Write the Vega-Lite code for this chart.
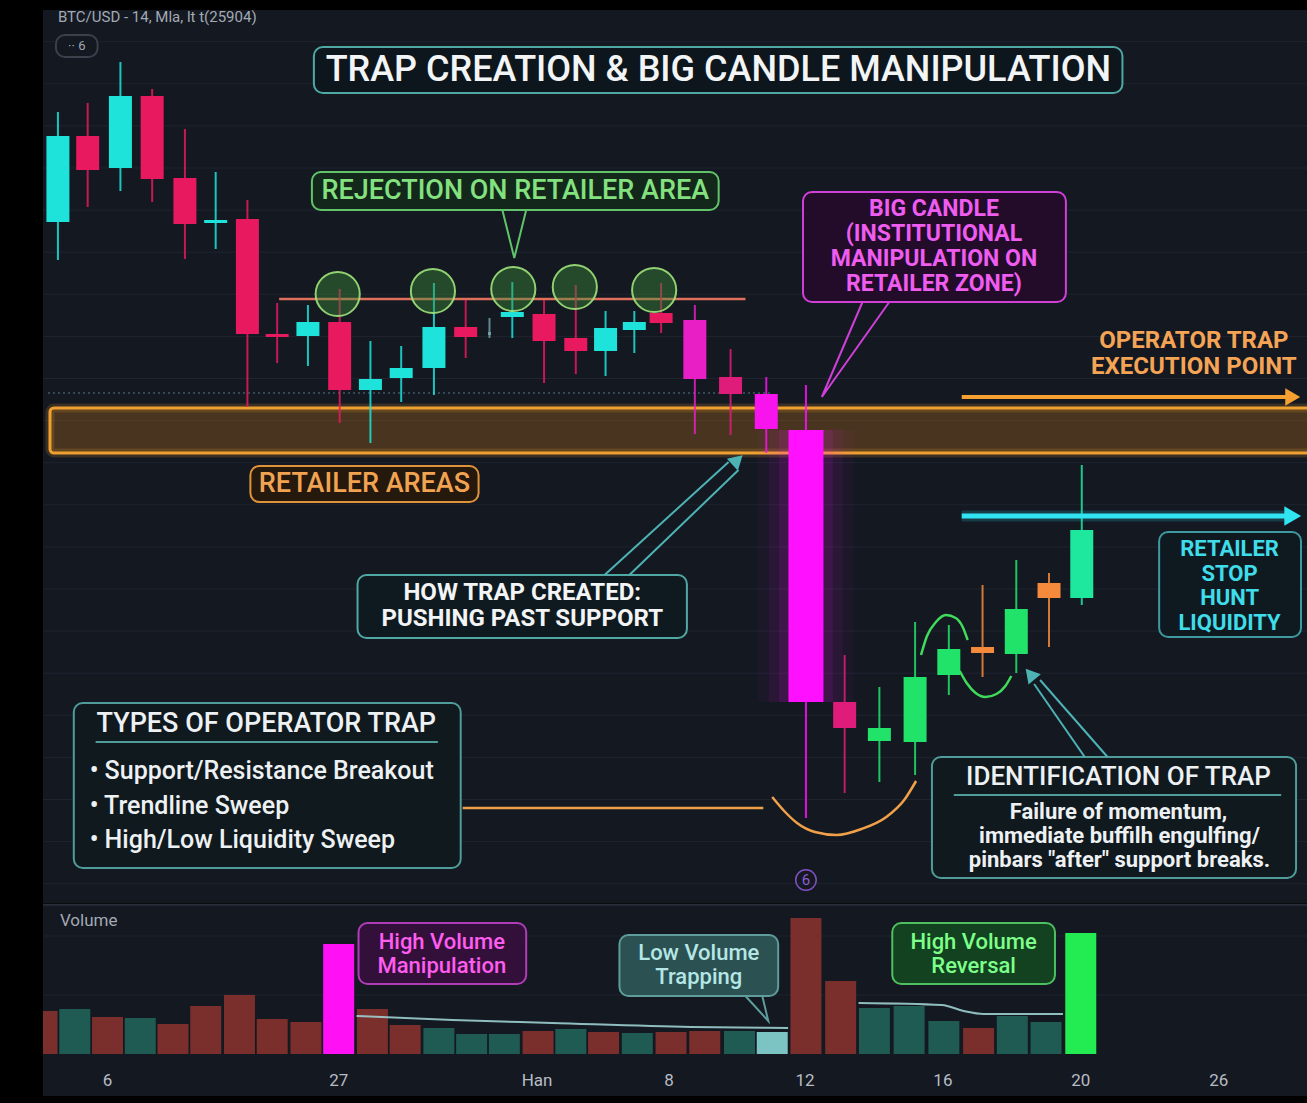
{
  "$schema": "https://vega.github.io/schema/vega-lite/v6.json",
  "background": "#000000",
  "padding": {"left": 42, "top": 10, "right": 0, "bottom": 8},
  "spacing": 0,
  "config": {
    "view": {"stroke": null, "fill": "#131821"},
    "axis": {"disable": true},
    "legend": {"disable": true},
    "font": "Roboto",
    "text": {"font": "Roboto", "baseline": "middle", "align": "center"}
  },
  "resolve": {"scale": {"x": "independent", "y": "independent", "color": "independent", "fill": "independent", "stroke": "independent"}},
  "datasets": {
    "candles": [
      {"t": 0.36, "o": 43280, "h": 44380, "l": 42900, "c": 44140, "phase": "bull"},
      {"t": 1.26, "o": 44140, "h": 44470, "l": 43430, "c": 43800, "phase": "bear"},
      {"t": 2.25, "o": 43820, "h": 44880, "l": 43590, "c": 44540, "phase": "bull"},
      {"t": 3.21, "o": 44540, "h": 44610, "l": 43480, "c": 43710, "phase": "bear"},
      {"t": 4.2, "o": 43720, "h": 44210, "l": 42910, "c": 43260, "phase": "bear"},
      {"t": 5.13, "o": 43270, "h": 43780, "l": 43010, "c": 43300, "phase": "bull"},
      {"t": 6.09, "o": 43310, "h": 43500, "l": 41430, "c": 42160, "phase": "bear"},
      {"t": 6.99, "o": 42160, "h": 42470, "l": 41870, "c": 42130, "phase": "bear"},
      {"t": 7.92, "o": 42140, "h": 42450, "l": 41840, "c": 42280, "phase": "bull"},
      {"t": 8.88, "o": 42280, "h": 42610, "l": 41270, "c": 41600, "phase": "bear"},
      {"t": 9.81, "o": 41600, "h": 42090, "l": 41070, "c": 41710, "phase": "bull"},
      {"t": 10.74, "o": 41720, "h": 42040, "l": 41480, "c": 41820, "phase": "bull"},
      {"t": 11.73, "o": 41820, "h": 42670, "l": 41550, "c": 42230, "phase": "bull"},
      {"t": 12.69, "o": 42230, "h": 42500, "l": 41920, "c": 42130, "phase": "bear"},
      {"t": 13.41, "o": 42150, "h": 42320, "l": 42120, "c": 42180, "phase": "ghost"},
      {"t": 14.1, "o": 42330, "h": 42680, "l": 42120, "c": 42380, "phase": "bull"},
      {"t": 15.06, "o": 42360, "h": 42500, "l": 41670, "c": 42090, "phase": "bear"},
      {"t": 16.02, "o": 42120, "h": 42650, "l": 41760, "c": 41990, "phase": "bear"},
      {"t": 16.92, "o": 41990, "h": 42390, "l": 41740, "c": 42220, "phase": "bull"},
      {"t": 17.79, "o": 42200, "h": 42390, "l": 41970, "c": 42280, "phase": "bull"},
      {"t": 18.6, "o": 42370, "h": 42670, "l": 42170, "c": 42270, "phase": "bear"},
      {"t": 19.62, "o": 42300, "h": 42450, "l": 41160, "c": 41710, "phase": "push"},
      {"t": 20.7, "o": 41730, "h": 42010, "l": 41150, "c": 41560, "phase": "pushred"},
      {"t": 21.78, "o": 41560, "h": 41730, "l": 40970, "c": 41210, "phase": "dump"},
      {"t": 22.98, "o": 41200, "h": 41650, "l": 37320, "c": 38480, "phase": "bigdump"},
      {"t": 24.15, "o": 38480, "h": 38950, "l": 37570, "c": 38220, "phase": "pushred"},
      {"t": 25.2, "o": 38090, "h": 38630, "l": 37680, "c": 38220, "phase": "reversal"},
      {"t": 26.28, "o": 38080, "h": 39280, "l": 37750, "c": 38730, "phase": "reversal"},
      {"t": 27.3, "o": 38750, "h": 39250, "l": 38550, "c": 39010, "phase": "reversal"},
      {"t": 28.32, "o": 38970, "h": 39650, "l": 38730, "c": 39030, "phase": "pause"},
      {"t": 29.34, "o": 38960, "h": 39900, "l": 38770, "c": 39410, "phase": "reversal"},
      {"t": 30.33, "o": 39520, "h": 39770, "l": 39030, "c": 39670, "phase": "pause"},
      {"t": 31.32, "o": 39520, "h": 40850, "l": 39450, "c": 40200, "phase": "breakout"}
    ],
    "grid": [
      {"p": 45083}, {"p": 44662}, {"p": 44241}, {"p": 43820}, {"p": 43399}, {"p": 42978}, {"p": 42557},
      {"p": 42136}, {"p": 41715}, {"p": 41294}, {"p": 40873}, {"p": 40452}, {"p": 40031}, {"p": 39610},
      {"p": 39189}, {"p": 38768}, {"p": 38347}, {"p": 37926}, {"p": 37505}, {"p": 37084}, {"p": 36663}
    ],
    "boxes": [
      {"id": "hdr6", "t1": 0.3, "t2": 1.56, "p1": 45150, "p2": 44930},
      {"id": "title", "t1": 8.1, "t2": 32.55, "p1": 45030, "p2": 44570},
      {"id": "reject", "t1": 8.04, "t2": 20.34, "p1": 43780, "p2": 43400},
      {"id": "bigc", "t1": 22.89, "t2": 30.84, "p1": 43580, "p2": 42480},
      {"id": "retail", "t1": 6.18, "t2": 13.08, "p1": 40840, "p2": 40480},
      {"id": "how", "t1": 9.42, "t2": 19.38, "p1": 39750, "p2": 39120},
      {"id": "liq", "t1": 33.66, "t2": 37.95, "p1": 40180, "p2": 39130},
      {"id": "types", "t1": 0.84, "t2": 12.54, "p1": 38470, "p2": 36820},
      {"id": "ident", "t1": 26.79, "t2": 37.8, "p1": 37930, "p2": 36720}
    ],
    "labels": [
      {"g": "hdr", "text": "BTC/USD - 14, Mla, lt t(25904)", "t": 0.36, "p": 45330},
      {"g": "six", "text": "·· 6", "t": 0.93, "p": 45040},
      {"g": "title", "text": "TRAP CREATION & BIG CANDLE MANIPULATION", "t": 20.33, "p": 44800},
      {"g": "reject", "text": "REJECTION ON RETAILER AREA", "t": 14.19, "p": 43590},
      {"g": "bigc", "text": "BIG CANDLE", "t": 26.85, "p": 43410},
      {"g": "bigc", "text": "(INSTITUTIONAL", "t": 26.85, "p": 43160},
      {"g": "bigc", "text": "MANIPULATION ON", "t": 26.85, "p": 42910},
      {"g": "bigc", "text": "RETAILER ZONE)", "t": 26.85, "p": 42660},
      {"g": "op", "text": "OPERATOR TRAP", "t": 34.71, "p": 42090},
      {"g": "op", "text": "EXECUTION POINT", "t": 34.71, "p": 41830},
      {"g": "retail", "text": "RETAILER AREAS", "t": 9.63, "p": 40660},
      {"g": "how", "text": "HOW TRAP CREATED:", "t": 14.4, "p": 39570},
      {"g": "how", "text": "PUSHING PAST SUPPORT", "t": 14.4, "p": 39310},
      {"g": "liq", "text": "RETAILER", "t": 35.79, "p": 40010},
      {"g": "liq", "text": "STOP", "t": 35.79, "p": 39765},
      {"g": "liq", "text": "HUNT", "t": 35.79, "p": 39520},
      {"g": "liq", "text": "LIQUIDITY", "t": 35.79, "p": 39275},
      {"g": "typesT", "text": "TYPES OF OPERATOR TRAP", "t": 6.66, "p": 38260},
      {"g": "bullet", "text": "• Support/Resistance Breakout", "t": 1.32, "p": 37790},
      {"g": "bullet", "text": "• Trendline Sweep", "t": 1.32, "p": 37440},
      {"g": "bullet", "text": "• High/Low Liquidity Sweep", "t": 1.32, "p": 37100},
      {"g": "identT", "text": "IDENTIFICATION OF TRAP", "t": 32.43, "p": 37730},
      {"g": "identB", "text": "Failure of momentum,", "t": 32.43, "p": 37380},
      {"g": "identB", "text": "immediate buffilh engulfing/", "t": 32.46, "p": 37140},
      {"g": "identB", "text": "pinbars \"after\" support breaks.", "t": 32.46, "p": 36900},
      {"g": "circ", "text": "6", "t": 22.98, "p": 36700}
    ],
    "hrules": [
      {"id": "dotted", "t1": 0.06, "t2": 21.9, "p": 41570},
      {"id": "resist", "t1": 7.05, "t2": 21.15, "p": 42510},
      {"id": "orangeH", "t1": 12.6, "t2": 21.69, "p": 37420},
      {"id": "opArrow", "t1": 27.69, "t2": 37.5, "p": 41530},
      {"id": "liqArrow", "t1": 27.69, "t2": 37.5, "p": 40340},
      {"id": "typesU", "t1": 1.5, "t2": 11.85, "p": 38080},
      {"id": "identU", "t1": 27.45, "t2": 37.35, "p": 37550}
    ],
    "paths": [
      {"id": "howA", "k": 0, "t": 16.89, "p": 39750}, {"id": "howA", "k": 1, "t": 20.64, "p": 40880},
      {"id": "howB", "k": 0, "t": 17.64, "p": 39750}, {"id": "howB", "k": 1, "t": 20.94, "p": 40800},
      {"id": "identA", "k": 0, "t": 31.41, "p": 37930}, {"id": "identA", "k": 1, "t": 29.88, "p": 38660},
      {"id": "identB", "k": 0, "t": 32.1, "p": 37930}, {"id": "identB", "k": 1, "t": 30.06, "p": 38700},
      {"id": "rejV", "k": 0, "t": 13.8, "p": 43400}, {"id": "rejV", "k": 1, "t": 14.16, "p": 42920}, {"id": "rejV", "k": 2, "t": 14.52, "p": 43400},
      {"id": "bigV", "k": 0, "t": 24.69, "p": 42480}, {"id": "bigV", "k": 1, "t": 23.46, "p": 41530}, {"id": "bigV", "k": 2, "t": 25.5, "p": 42480},
      {"id": "greenS1", "k": 0, "t": 26.46, "p": 38950}, {"id": "greenS1", "k": 1, "t": 26.64, "p": 39140},
      {"id": "greenS1", "k": 2, "t": 26.91, "p": 39280}, {"id": "greenS1", "k": 3, "t": 27.21, "p": 39350},
      {"id": "greenS1", "k": 4, "t": 27.51, "p": 39320}, {"id": "greenS1", "k": 5, "t": 27.72, "p": 39230},
      {"id": "greenS1", "k": 6, "t": 27.87, "p": 39100},
      {"id": "greenS2", "k": 0, "t": 27.63, "p": 38790}, {"id": "greenS2", "k": 1, "t": 27.84, "p": 38670},
      {"id": "greenS2", "k": 2, "t": 28.11, "p": 38570}, {"id": "greenS2", "k": 3, "t": 28.41, "p": 38530},
      {"id": "greenS2", "k": 4, "t": 28.74, "p": 38560}, {"id": "greenS2", "k": 5, "t": 29.01, "p": 38640},
      {"id": "greenS2", "k": 6, "t": 29.19, "p": 38740},
      {"id": "orangeU", "k": 0, "t": 21.96, "p": 37530}, {"id": "orangeU", "k": 1, "t": 22.35, "p": 37380},
      {"id": "orangeU", "k": 2, "t": 22.71, "p": 37270}, {"id": "orangeU", "k": 3, "t": 23.25, "p": 37180},
      {"id": "orangeU", "k": 4, "t": 23.91, "p": 37150}, {"id": "orangeU", "k": 5, "t": 24.66, "p": 37210},
      {"id": "orangeU", "k": 6, "t": 25.41, "p": 37330}, {"id": "orangeU", "k": 7, "t": 25.95, "p": 37500},
      {"id": "orangeU", "k": 8, "t": 26.31, "p": 37690}
    ],
    "heads": [
      {"id": "how", "t": 20.91, "p": 40900, "dir": 47},
      {"id": "ident", "t": 29.76, "p": 38760, "dir": -40},
      {"id": "op", "t": 37.7, "p": 41530, "dir": 90},
      {"id": "liq", "t": 37.7, "p": 40340, "dir": 90}
    ],
    "rings": [
      {"t": 8.82, "p": 42560}, {"t": 11.7, "p": 42590}, {"t": 14.13, "p": 42610},
      {"t": 15.99, "p": 42630}, {"t": 18.39, "p": 42600}
    ],
    "volume": [
      {"t": -0.12, "v": 860, "kind": "down"},
      {"t": 0.87, "v": 900, "kind": "up"},
      {"t": 1.86, "v": 740, "kind": "down"},
      {"t": 2.85, "v": 720, "kind": "up"},
      {"t": 3.84, "v": 600, "kind": "down"},
      {"t": 4.83, "v": 960, "kind": "down"},
      {"t": 5.85, "v": 1180, "kind": "down"},
      {"t": 6.84, "v": 700, "kind": "down"},
      {"t": 7.86, "v": 640, "kind": "down"},
      {"t": 8.85, "v": 2200, "kind": "spike"},
      {"t": 9.87, "v": 900, "kind": "down"},
      {"t": 10.86, "v": 580, "kind": "down"},
      {"t": 11.88, "v": 520, "kind": "up"},
      {"t": 12.87, "v": 400, "kind": "up"},
      {"t": 13.86, "v": 400, "kind": "up"},
      {"t": 14.88, "v": 460, "kind": "down"},
      {"t": 15.87, "v": 500, "kind": "up"},
      {"t": 16.86, "v": 440, "kind": "down"},
      {"t": 17.88, "v": 420, "kind": "up"},
      {"t": 18.9, "v": 440, "kind": "down"},
      {"t": 19.92, "v": 460, "kind": "down"},
      {"t": 20.97, "v": 460, "kind": "up"},
      {"t": 21.96, "v": 440, "kind": "quiet"},
      {"t": 22.98, "v": 2720, "kind": "down"},
      {"t": 24.03, "v": 1460, "kind": "down"},
      {"t": 25.05, "v": 920, "kind": "up"},
      {"t": 26.1, "v": 960, "kind": "up"},
      {"t": 27.15, "v": 660, "kind": "up"},
      {"t": 28.2, "v": 520, "kind": "down"},
      {"t": 29.22, "v": 760, "kind": "up"},
      {"t": 30.24, "v": 640, "kind": "up"},
      {"t": 31.29, "v": 2420, "kind": "surge"}
    ],
    "ma": [
      {"seg": "a", "k": 0, "t": 9.39, "v": 760}, {"seg": "a", "k": 1, "t": 12.3, "v": 680},
      {"seg": "a", "k": 2, "t": 15.3, "v": 620}, {"seg": "a", "k": 3, "t": 19.5, "v": 540},
      {"seg": "a", "k": 4, "t": 22.44, "v": 520},
      {"seg": "b", "k": 0, "t": 24.57, "v": 1020}, {"seg": "b", "k": 1, "t": 27.09, "v": 980},
      {"seg": "b", "k": 2, "t": 27.75, "v": 860}, {"seg": "b", "k": 3, "t": 28.35, "v": 800},
      {"seg": "b", "k": 4, "t": 30.75, "v": 800}
    ],
    "vboxes": [
      {"id": "hvm", "t1": 9.45, "t2": 14.52, "v1": 2620, "v2": 1400},
      {"id": "lvt", "t1": 17.34, "t2": 22.14, "v1": 2380, "v2": 1160},
      {"id": "hvr", "t1": 25.59, "t2": 30.51, "v1": 2620, "v2": 1400}
    ],
    "vpaths": [
      {"id": "lvtV", "k": 0, "t": 21.15, "v": 1160}, {"id": "lvtV", "k": 1, "t": 21.84, "v": 660}, {"id": "lvtV", "k": 2, "t": 21.66, "v": 1160}
    ],
    "vlabels": [
      {"g": "vol", "text": "Volume", "t": 0.42, "v": 2660},
      {"g": "hvm", "text": "High Volume", "t": 11.97, "v": 2240},
      {"g": "hvm", "text": "Manipulation", "t": 11.97, "v": 1760},
      {"g": "lvt", "text": "Low Volume", "t": 19.74, "v": 2020},
      {"g": "lvt", "text": "Trapping", "t": 19.74, "v": 1540},
      {"g": "hvr", "text": "High Volume", "t": 28.05, "v": 2240},
      {"g": "hvr", "text": "Reversal", "t": 28.05, "v": 1760},
      {"g": "ax", "text": "6", "t": 1.86, "v": -540},
      {"g": "ax", "text": "27", "t": 8.85, "v": -540},
      {"g": "ax", "text": "Han", "t": 14.85, "v": -540},
      {"g": "ax", "text": "8", "t": 18.84, "v": -540},
      {"g": "ax", "text": "12", "t": 22.95, "v": -540},
      {"g": "ax", "text": "16", "t": 27.12, "v": -540},
      {"g": "ax", "text": "20", "t": 31.29, "v": -540},
      {"g": "ax", "text": "26", "t": 35.46, "v": -540}
    ],
    "vgrid": [{"v": 2360}, {"v": 1180}]
  },
  "vconcat": [
    {
      "width": 1265,
      "height": 893,
      "layer": [
        {
          "data": {"name": "grid"},
          "mark": {"type": "rule", "color": "#1f2430", "strokeWidth": 1},
          "encoding": {"y": {"field": "p", "type": "quantitative", "scale": {"domain": [36470, 45400], "nice": false, "zero": false}}}
        },
        {
          "data": {"name": "hrules"},
          "transform": [{"filter": "datum.id === 'dotted'"}],
          "mark": {"type": "rule", "color": "#3f5b66", "strokeWidth": 1.5, "strokeDash": [2, 3]},
          "encoding": {
            "x": {"field": "t1", "type": "quantitative", "scale": {"domain": [0.06, 38.01], "nice": false, "zero": false}},
            "x2": {"field": "t2"},
            "y": {"field": "p", "type": "quantitative", "scale": {"domain": [36470, 45400], "nice": false, "zero": false}}
          }
        },
        {
          "data": {"values": [{"t1": 0.12, "t2": 39, "p1": 41420, "p2": 40970}]},
          "layer": [
            {"mark": {"type": "rect", "clip": true, "fill": "none", "stroke": "#f0a030", "strokeWidth": 9, "strokeOpacity": 0.18, "cornerRadius": 4}},
            {"mark": {"type": "rect", "clip": true, "fill": "#c77a1a", "fillOpacity": 0.3, "stroke": "#f0a030", "strokeWidth": 3, "cornerRadius": 4}}
          ],
          "encoding": {
            "x": {"field": "t1", "type": "quantitative", "scale": {"domain": [0.06, 38.01], "nice": false, "zero": false}},
            "x2": {"field": "t2"},
            "y": {"field": "p1", "type": "quantitative", "scale": {"domain": [36470, 45400], "nice": false, "zero": false}},
            "y2": {"field": "p2"}
          }
        },
        {
          "data": {"name": "hrules"},
          "transform": [{"filter": "datum.id === 'resist'"}],
          "mark": {"type": "rule", "color": "#e0705e", "strokeWidth": 2.5},
          "encoding": {
            "x": {"field": "t1", "type": "quantitative", "scale": {"domain": [0.06, 38.01], "nice": false, "zero": false}},
            "x2": {"field": "t2"},
            "y": {"field": "p", "type": "quantitative", "scale": {"domain": [36470, 45400], "nice": false, "zero": false}}
          }
        },
        {
          "data": {"name": "candles"},
          "transform": [{"filter": "datum.phase === 'bigdump'"}],
          "layer": [
            {"mark": {"type": "bar", "size": 96, "color": "#ff10ff", "opacity": 0.04}},
            {"mark": {"type": "bar", "size": 74, "color": "#ff10ff", "opacity": 0.06}},
            {"mark": {"type": "bar", "size": 54, "color": "#ff10ff", "opacity": 0.1}}
          ],
          "encoding": {
            "x": {"field": "t", "type": "quantitative", "scale": {"domain": [0.06, 38.01], "nice": false, "zero": false}},
            "y": {"field": "o", "type": "quantitative", "scale": {"domain": [36470, 45400], "nice": false, "zero": false}},
            "y2": {"field": "c"}
          }
        },
        {
          "data": {"name": "candles"},
          "mark": {"type": "rule", "strokeWidth": 2, "opacity": 0.85, "clip": true},
          "encoding": {
            "x": {"field": "t", "type": "quantitative", "scale": {"domain": [0.06, 38.01], "nice": false, "zero": false}},
            "y": {"field": "l", "type": "quantitative", "scale": {"domain": [36470, 45400], "nice": false, "zero": false}},
            "y2": {"field": "h"},
            "color": {
              "field": "phase", "type": "nominal", "legend": null,
              "scale": {
                "domain": ["bull", "bear", "push", "pushred", "dump", "bigdump", "reversal", "pause", "breakout", "ghost"],
                "range": ["#1de3da", "#e8195e", "#e81fc4", "#e01c7a", "#f814ec", "#ff10ff", "#22e36a", "#f58a3c", "#1ee89e", "#6f9ea6"]
              }
            }
          }
        },
        {
          "data": {"name": "candles"},
          "mark": {"type": "bar", "clip": true},
          "encoding": {
            "x": {"field": "t", "type": "quantitative", "scale": {"domain": [0.06, 38.01], "nice": false, "zero": false}},
            "y": {"field": "o", "type": "quantitative", "scale": {"domain": [36470, 45400], "nice": false, "zero": false}},
            "y2": {"field": "c"},
            "size": {"condition": [{"test": "datum.phase === 'bigdump'", "value": 35}, {"test": "datum.phase === 'ghost'", "value": 3}], "value": 23},
            "color": {
              "field": "phase", "type": "nominal", "legend": null,
              "scale": {
                "domain": ["bull", "bear", "push", "pushred", "dump", "bigdump", "reversal", "pause", "breakout", "ghost"],
                "range": ["#1de3da", "#e8195e", "#e81fc4", "#e01c7a", "#f814ec", "#ff10ff", "#22e36a", "#f58a3c", "#1ee89e", "#6f9ea6"]
              }
            }
          }
        },
        {
          "data": {"name": "rings"},
          "mark": {"type": "point", "shape": "circle", "size": 1950, "filled": true, "fill": "#3f8f3a", "fillOpacity": 0.42, "stroke": "#9fe27a", "strokeWidth": 2, "strokeOpacity": 0.9},
          "encoding": {
            "x": {"field": "t", "type": "quantitative", "scale": {"domain": [0.06, 38.01], "nice": false, "zero": false}},
            "y": {"field": "p", "type": "quantitative", "scale": {"domain": [36470, 45400], "nice": false, "zero": false}}
          }
        },
        {
          "data": {"name": "boxes"},
          "mark": {"type": "rect", "strokeWidth": 2, "cornerRadius": 9},
          "encoding": {
            "x": {"field": "t1", "type": "quantitative", "scale": {"domain": [0.06, 38.01], "nice": false, "zero": false}},
            "x2": {"field": "t2"},
            "y": {"field": "p1", "type": "quantitative", "scale": {"domain": [36470, 45400], "nice": false, "zero": false}},
            "y2": {"field": "p2"},
            "fill": {"field": "id", "type": "nominal", "legend": null, "scale": {"domain": ["hdr6", "title", "reject", "bigc", "retail", "how", "liq", "types", "ident"], "range": ["#131821", "#0d161c", "#13281b", "#220c2a", "#24190c", "#0f1a20", "#0f1a20", "#0f191e", "#0f191e"]}},
            "stroke": {"field": "id", "type": "nominal", "legend": null, "scale": {"domain": ["hdr6", "title", "reject", "bigc", "retail", "how", "liq", "types", "ident"], "range": ["#3a404c", "#4fa8a4", "#62c46a", "#d040d8", "#e09238", "#4fa8a4", "#3f9aa0", "#4f9c9a", "#4f9c9a"]}}
          }
        },
        {
          "data": {"name": "hrules"},
          "transform": [{"filter": "datum.id === 'typesU' || datum.id === 'identU'"}],
          "mark": {"type": "rule", "color": "#4f9c9a", "strokeWidth": 2},
          "encoding": {
            "x": {"field": "t1", "type": "quantitative", "scale": {"domain": [0.06, 38.01], "nice": false, "zero": false}},
            "x2": {"field": "t2"},
            "y": {"field": "p", "type": "quantitative", "scale": {"domain": [36470, 45400], "nice": false, "zero": false}}
          }
        },
        {
          "data": {"name": "hrules"},
          "transform": [{"filter": "datum.id === 'orangeH'"}],
          "mark": {"type": "rule", "color": "#f0a048", "strokeWidth": 2.5},
          "encoding": {
            "x": {"field": "t1", "type": "quantitative", "scale": {"domain": [0.06, 38.01], "nice": false, "zero": false}},
            "x2": {"field": "t2"},
            "y": {"field": "p", "type": "quantitative", "scale": {"domain": [36470, 45400], "nice": false, "zero": false}}
          }
        },
        {
          "data": {"name": "hrules"},
          "transform": [{"filter": "datum.id === 'opArrow'"}],
          "mark": {"type": "rule", "color": "#f5a030", "strokeWidth": 4},
          "encoding": {
            "x": {"field": "t1", "type": "quantitative", "scale": {"domain": [0.06, 38.01], "nice": false, "zero": false}},
            "x2": {"field": "t2"},
            "y": {"field": "p", "type": "quantitative", "scale": {"domain": [36470, 45400], "nice": false, "zero": false}}
          }
        },
        {
          "data": {"name": "hrules"},
          "transform": [{"filter": "datum.id === 'liqArrow'"}],
          "layer": [
            {"mark": {"type": "rule", "color": "#30e4f2", "strokeWidth": 11, "opacity": 0.18}},
            {"mark": {"type": "rule", "color": "#30e4f2", "strokeWidth": 5}}
          ],
          "encoding": {
            "x": {"field": "t1", "type": "quantitative", "scale": {"domain": [0.06, 38.01], "nice": false, "zero": false}},
            "x2": {"field": "t2"},
            "y": {"field": "p", "type": "quantitative", "scale": {"domain": [36470, 45400], "nice": false, "zero": false}}
          }
        },
        {
          "data": {"name": "paths"},
          "transform": [{"filter": "indexof(['howA','howB','identA','identB'], datum.id) >= 0"}],
          "mark": {"type": "line", "color": "#4db3b5", "strokeWidth": 2},
          "encoding": {
            "x": {"field": "t", "type": "quantitative", "scale": {"domain": [0.06, 38.01], "nice": false, "zero": false}},
            "y": {"field": "p", "type": "quantitative", "scale": {"domain": [36470, 45400], "nice": false, "zero": false}},
            "detail": {"field": "id"},
            "order": {"field": "k"}
          }
        },
        {
          "data": {"name": "paths"},
          "transform": [{"filter": "datum.id === 'rejV'"}],
          "mark": {"type": "line", "color": "#62c46a", "strokeWidth": 2},
          "encoding": {
            "x": {"field": "t", "type": "quantitative", "scale": {"domain": [0.06, 38.01], "nice": false, "zero": false}},
            "y": {"field": "p", "type": "quantitative", "scale": {"domain": [36470, 45400], "nice": false, "zero": false}},
            "order": {"field": "k"}
          }
        },
        {
          "data": {"name": "paths"},
          "transform": [{"filter": "datum.id === 'bigV'"}],
          "mark": {"type": "line", "color": "#d040d8", "strokeWidth": 2},
          "encoding": {
            "x": {"field": "t", "type": "quantitative", "scale": {"domain": [0.06, 38.01], "nice": false, "zero": false}},
            "y": {"field": "p", "type": "quantitative", "scale": {"domain": [36470, 45400], "nice": false, "zero": false}},
            "order": {"field": "k"}
          }
        },
        {
          "data": {"name": "paths"},
          "transform": [{"filter": "datum.id === 'greenS1' || datum.id === 'greenS2'"}],
          "mark": {"type": "line", "color": "#3fdc5c", "strokeWidth": 2.5, "interpolate": "monotone"},
          "encoding": {
            "x": {"field": "t", "type": "quantitative", "scale": {"domain": [0.06, 38.01], "nice": false, "zero": false}},
            "y": {"field": "p", "type": "quantitative", "scale": {"domain": [36470, 45400], "nice": false, "zero": false}},
            "detail": {"field": "id"},
            "order": {"field": "k"}
          }
        },
        {
          "data": {"name": "paths"},
          "transform": [{"filter": "datum.id === 'orangeU'"}],
          "mark": {"type": "line", "color": "#f0a048", "strokeWidth": 2.5, "interpolate": "monotone"},
          "encoding": {
            "x": {"field": "t", "type": "quantitative", "scale": {"domain": [0.06, 38.01], "nice": false, "zero": false}},
            "y": {"field": "p", "type": "quantitative", "scale": {"domain": [36470, 45400], "nice": false, "zero": false}},
            "order": {"field": "k"}
          }
        },
        {
          "data": {"name": "heads"},
          "transform": [{"filter": "datum.id === 'how' || datum.id === 'ident'"}],
          "mark": {"type": "point", "shape": "triangle-up", "filled": true, "color": "#4db3b5", "opacity": 1, "size": 260},
          "encoding": {
            "x": {"field": "t", "type": "quantitative", "scale": {"domain": [0.06, 38.01], "nice": false, "zero": false}},
            "y": {"field": "p", "type": "quantitative", "scale": {"domain": [36470, 45400], "nice": false, "zero": false}},
            "angle": {"field": "dir", "type": "quantitative", "scale": null}
          }
        },
        {
          "data": {"name": "heads"},
          "transform": [{"filter": "datum.id === 'op'"}],
          "mark": {"type": "point", "shape": "triangle-up", "filled": true, "color": "#f5a030", "opacity": 1, "size": 300},
          "encoding": {
            "x": {"field": "t", "type": "quantitative", "scale": {"domain": [0.06, 38.01], "nice": false, "zero": false}},
            "y": {"field": "p", "type": "quantitative", "scale": {"domain": [36470, 45400], "nice": false, "zero": false}},
            "angle": {"field": "dir", "type": "quantitative", "scale": null}
          }
        },
        {
          "data": {"name": "heads"},
          "transform": [{"filter": "datum.id === 'liq'"}],
          "mark": {"type": "point", "shape": "triangle-up", "filled": true, "color": "#30e4f2", "opacity": 1, "size": 380},
          "encoding": {
            "x": {"field": "t", "type": "quantitative", "scale": {"domain": [0.06, 38.01], "nice": false, "zero": false}},
            "y": {"field": "p", "type": "quantitative", "scale": {"domain": [36470, 45400], "nice": false, "zero": false}},
            "angle": {"field": "dir", "type": "quantitative", "scale": null}
          }
        },
        {
          "data": {"values": [{"t": 22.98, "p": 36700}]},
          "mark": {"type": "point", "shape": "circle", "size": 420, "filled": false, "stroke": "#8050c0", "strokeWidth": 1.5, "opacity": 1},
          "encoding": {
            "x": {"field": "t", "type": "quantitative", "scale": {"domain": [0.06, 38.01], "nice": false, "zero": false}},
            "y": {"field": "p", "type": "quantitative", "scale": {"domain": [36470, 45400], "nice": false, "zero": false}}
          }
        },
        {
          "data": {"name": "labels"},
          "layer": [
            {"transform": [{"filter": "datum.g === 'hdr'"}], "mark": {"type": "text", "align": "left", "fontSize": 15, "fill": "#a3a9b3"}},
            {"transform": [{"filter": "datum.g === 'six'"}], "mark": {"type": "text", "fontSize": 13, "fill": "#a3a9b3"}},
            {"transform": [{"filter": "datum.g === 'title'"}], "mark": {"type": "text", "fontSize": 36, "fontWeight": 500, "fill": "#f2f4f5"}},
            {"transform": [{"filter": "datum.g === 'reject'"}], "mark": {"type": "text", "fontSize": 27, "fontWeight": 500, "fill": "#83e27f"}},
            {"transform": [{"filter": "datum.g === 'bigc'"}], "mark": {"type": "text", "fontSize": 23, "fontWeight": "bold", "fill": "#ef5cf0"}},
            {"transform": [{"filter": "datum.g === 'op'"}], "mark": {"type": "text", "fontSize": 24, "fontWeight": "bold", "fill": "#f5a455"}},
            {"transform": [{"filter": "datum.g === 'retail'"}], "mark": {"type": "text", "fontSize": 27, "fontWeight": 500, "fill": "#f2a352"}},
            {"transform": [{"filter": "datum.g === 'how'"}], "mark": {"type": "text", "fontSize": 24, "fontWeight": "bold", "fill": "#f2f4f5"}},
            {"transform": [{"filter": "datum.g === 'liq'"}], "mark": {"type": "text", "fontSize": 22, "fontWeight": "bold", "fill": "#3fdcea"}},
            {"transform": [{"filter": "datum.g === 'typesT'"}], "mark": {"type": "text", "fontSize": 27, "fontWeight": 500, "fill": "#eef1f3"}},
            {"transform": [{"filter": "datum.g === 'bullet'"}], "mark": {"type": "text", "align": "left", "fontSize": 25, "fontWeight": 500, "fill": "#eef1f3"}},
            {"transform": [{"filter": "datum.g === 'identT'"}], "mark": {"type": "text", "fontSize": 26, "fontWeight": 500, "fill": "#eef1f3"}},
            {"transform": [{"filter": "datum.g === 'identB'"}], "mark": {"type": "text", "fontSize": 22, "fontWeight": "bold", "fill": "#eef1f3"}},
            {"transform": [{"filter": "datum.g === 'circ'"}], "mark": {"type": "text", "fontSize": 15, "fill": "#8e5cd0"}}
          ],
          "encoding": {
            "x": {"field": "t", "type": "quantitative", "scale": {"domain": [0.06, 38.01], "nice": false, "zero": false}},
            "y": {"field": "p", "type": "quantitative", "scale": {"domain": [36470, 45400], "nice": false, "zero": false}},
            "text": {"field": "text"}
          }
        }
      ]
    },
    {
      "width": 1265,
      "height": 192,
      "layer": [
        {
          "data": {"name": "vgrid"},
          "mark": {"type": "rule", "color": "#1f2430", "strokeWidth": 1},
          "encoding": {"y": {"field": "v", "type": "quantitative", "scale": {"domain": [-840, 3000], "nice": false, "zero": false}}}
        },
        {
          "data": {"values": [{"v": 2985}]},
          "mark": {"type": "rule", "color": "#272c38", "strokeWidth": 2},
          "encoding": {"y": {"field": "v", "type": "quantitative", "scale": {"domain": [-840, 3000], "nice": false, "zero": false}}}
        },
        {
          "data": {"name": "volume"},
          "mark": {"type": "bar", "size": 31, "clip": true},
          "encoding": {
            "x": {"field": "t", "type": "quantitative", "scale": {"domain": [0.06, 38.01], "nice": false, "zero": false}},
            "y": {"field": "v", "type": "quantitative", "scale": {"domain": [-840, 3000], "nice": false, "zero": false}},
            "y2": {"datum": 0},
            "color": {
              "field": "kind", "type": "nominal", "legend": null,
              "scale": {"domain": ["down", "up", "spike", "quiet", "surge"], "range": ["#7a2f2c", "#1f5a53", "#ff10f5", "#7cc4c4", "#22ec52"]}
            }
          }
        },
        {
          "data": {"name": "ma"},
          "mark": {"type": "line", "color": "#9fcfd0", "strokeWidth": 2, "interpolate": "monotone", "opacity": 0.9},
          "encoding": {
            "x": {"field": "t", "type": "quantitative", "scale": {"domain": [0.06, 38.01], "nice": false, "zero": false}},
            "y": {"field": "v", "type": "quantitative", "scale": {"domain": [-840, 3000], "nice": false, "zero": false}},
            "detail": {"field": "seg"},
            "order": {"field": "k"}
          }
        },
        {
          "data": {"name": "vpaths"},
          "mark": {"type": "line", "color": "#5f9c9c", "strokeWidth": 2},
          "encoding": {
            "x": {"field": "t", "type": "quantitative", "scale": {"domain": [0.06, 38.01], "nice": false, "zero": false}},
            "y": {"field": "v", "type": "quantitative", "scale": {"domain": [-840, 3000], "nice": false, "zero": false}},
            "order": {"field": "k"}
          }
        },
        {
          "data": {"name": "vboxes"},
          "mark": {"type": "rect", "strokeWidth": 2, "cornerRadius": 9},
          "encoding": {
            "x": {"field": "t1", "type": "quantitative", "scale": {"domain": [0.06, 38.01], "nice": false, "zero": false}},
            "x2": {"field": "t2"},
            "y": {"field": "v1", "type": "quantitative", "scale": {"domain": [-840, 3000], "nice": false, "zero": false}},
            "y2": {"field": "v2"},
            "fill": {"field": "id", "type": "nominal", "legend": null, "scale": {"domain": ["hvm", "lvt", "hvr"], "range": ["#33103a", "#2b5152", "#12421f"]}},
            "stroke": {"field": "id", "type": "nominal", "legend": null, "scale": {"domain": ["hvm", "lvt", "hvr"], "range": ["#b03cb8", "#5f9c9c", "#4fc060"]}}
          }
        },
        {
          "data": {"name": "vlabels"},
          "layer": [
            {"transform": [{"filter": "datum.g === 'vol'"}], "mark": {"type": "text", "align": "left", "fontSize": 17, "fill": "#a3a9b3"}},
            {"transform": [{"filter": "datum.g === 'hvm'"}], "mark": {"type": "text", "fontSize": 22, "fontWeight": 500, "fill": "#ff5cf0"}},
            {"transform": [{"filter": "datum.g === 'lvt'"}], "mark": {"type": "text", "fontSize": 22, "fontWeight": 500, "fill": "#b5e6e6"}},
            {"transform": [{"filter": "datum.g === 'hvr'"}], "mark": {"type": "text", "fontSize": 22, "fontWeight": 500, "fill": "#7dff8a"}},
            {"transform": [{"filter": "datum.g === 'ax'"}], "mark": {"type": "text", "fontSize": 17, "fill": "#b8bcc4"}}
          ],
          "encoding": {
            "x": {"field": "t", "type": "quantitative", "scale": {"domain": [0.06, 38.01], "nice": false, "zero": false}},
            "y": {"field": "v", "type": "quantitative", "scale": {"domain": [-840, 3000], "nice": false, "zero": false}},
            "text": {"field": "text"}
          }
        }
      ]
    }
  ]
}
